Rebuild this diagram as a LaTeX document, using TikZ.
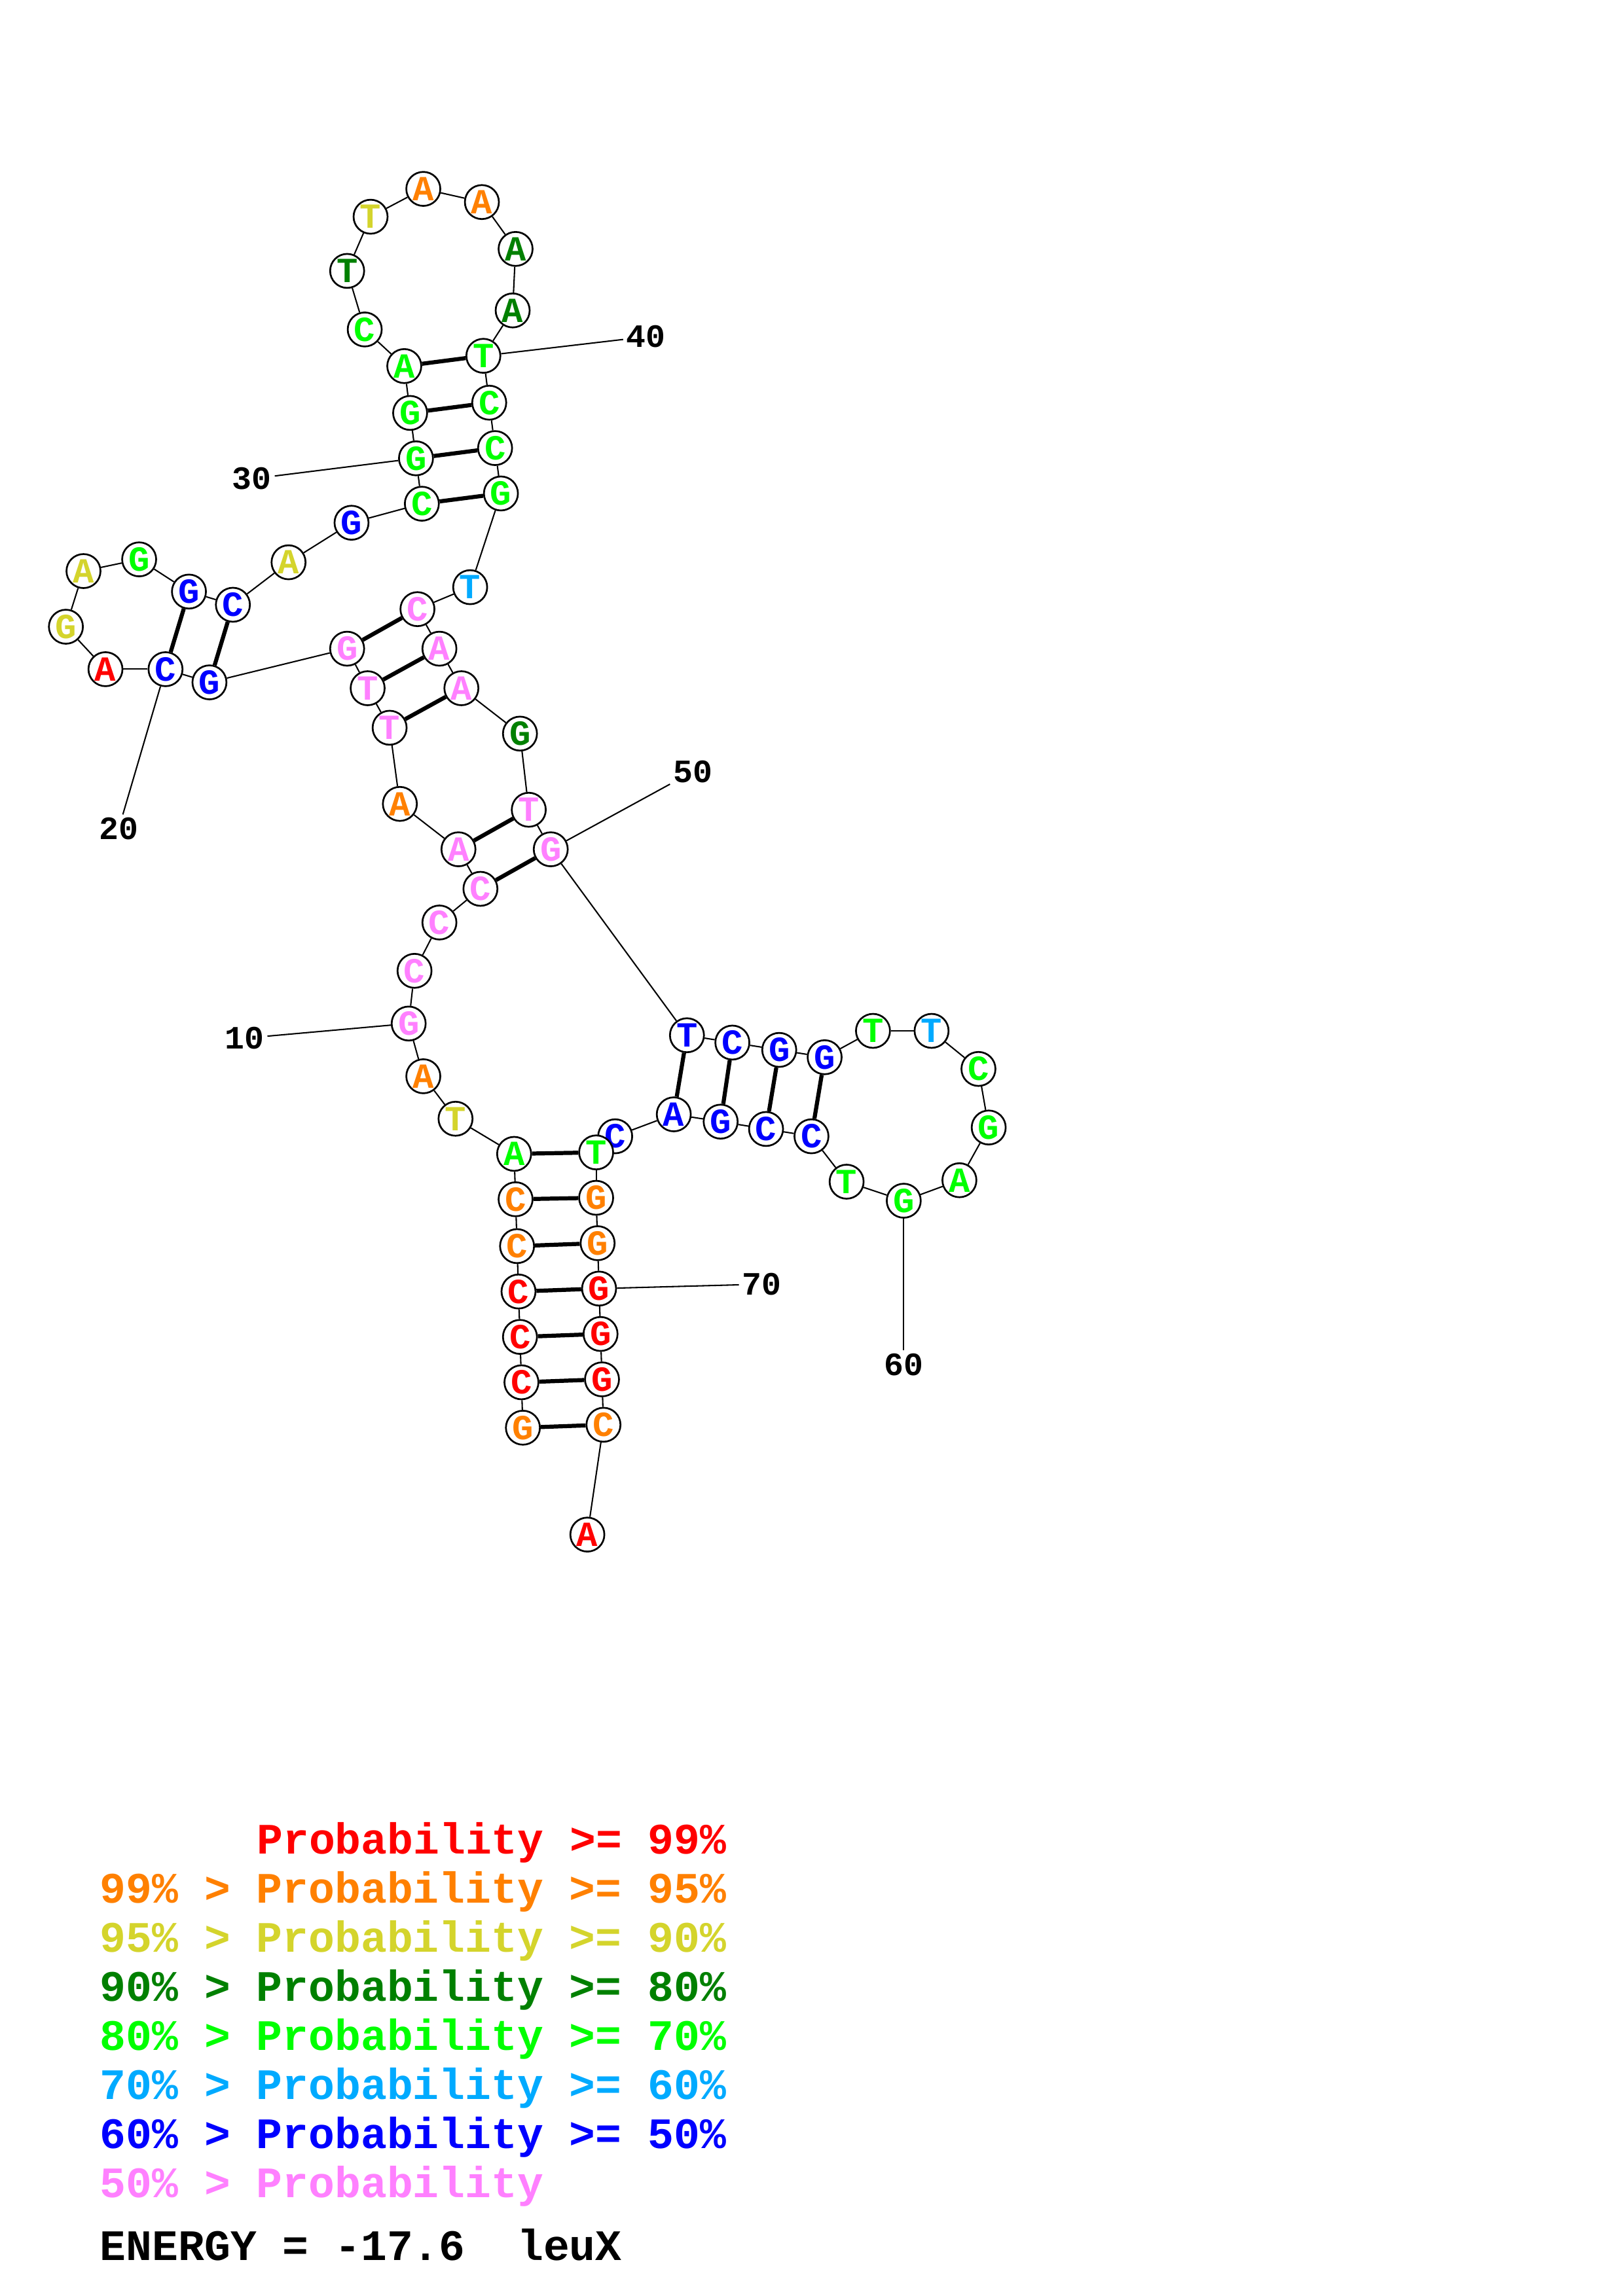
\documentclass[tikz,border=0pt]{standalone}
\usepackage{fontspec}
\setmonofont{Liberation Mono}
\definecolor{pr99}{HTML}{FF0000}
\definecolor{pr95}{HTML}{FF8000}
\definecolor{pr90}{HTML}{D4D42C}
\definecolor{pr80}{HTML}{008000}
\definecolor{pr70}{HTML}{00FF00}
\definecolor{pr60}{HTML}{00AAFF}
\definecolor{pr50}{HTML}{0000FF}
\definecolor{pr00}{HTML}{FF80FF}
\pgfdeclarelayer{bg}
\pgfsetlayers{bg,main}
\tikzset{
  nt/.style={circle,draw,fill=white,line width=0.65pt,minimum size=0.44cm,inner sep=0pt,
    font=\ttfamily\bfseries\fontsize{13}{13}\selectfont,text=#1},
  bb/.style={line width=0.5pt},
  bp/.style={line width=1.5pt},
  num/.style={inner sep=1pt,font=\ttfamily\bfseries\fontsize{12}{12}\selectfont},
  leg/.style={anchor=base west,inner sep=0pt,font=\ttfamily\bfseries\fontsize{16}{16}\selectfont}
}
\begin{document}
\begin{tikzpicture}[x=0.018953cm,y=-0.018953cm]
\begin{pgfonlayer}{bg}
  \fill[white] (0,0) rectangle (1108,1568);
\end{pgfonlayer}
\useasboundingbox (0,0) rectangle (1108,1568);
% acceptor stem, 5' side
\node[nt=pr95] (n1) at (357,975) {G};
\node[nt=pr99] (n2) at (356,944) {C};
\node[nt=pr99] (n3) at (355,913) {C};
\node[nt=pr99] (n4) at (354,882) {C};
\node[nt=pr95] (n5) at (353,851) {C};
\node[nt=pr95] (n6) at (352,819) {C};
\node[nt=pr70] (n7) at (351,788) {A};
\node[nt=pr90] (n8) at (311,764) {T};
\node[nt=pr95] (n9) at (289,735) {A};
\node[nt=pr00] (n10) at (279,699) {G};
\node[nt=pr00] (n11) at (283,663) {C};
\node[nt=pr00] (n12) at (300,630) {C};
\node[nt=pr00] (n13) at (328,607) {C};
\node[nt=pr00] (n14) at (313,580) {A};
\node[nt=pr95] (n15) at (273,549) {A};
\node[nt=pr00] (n16) at (266,497) {T};
\node[nt=pr00] (n17) at (251,470) {T};
\node[nt=pr00] (n18) at (237,443) {G};
% left hairpin
\node[nt=pr50] (n19) at (143,466) {G};
\node[nt=pr50] (n20) at (113,457) {C};
\node[nt=pr99] (n21) at (72,457) {A};
\node[nt=pr90] (n22) at (45,428) {G};
\node[nt=pr90] (n23) at (57,390) {A};
\node[nt=pr70] (n24) at (95,382) {G};
\node[nt=pr50] (n25) at (129,404) {G};
\node[nt=pr50] (n26) at (159,413) {C};
\node[nt=pr90] (n27) at (197,384) {A};
\node[nt=pr50] (n28) at (240,357) {G};
% top hairpin
\node[nt=pr70] (n29) at (288,344) {C};
\node[nt=pr70] (n30) at (284,313) {G};
\node[nt=pr70] (n31) at (280,282) {G};
\node[nt=pr70] (n32) at (276,250) {A};
\node[nt=pr70] (n33) at (249,225) {C};
\node[nt=pr80] (n34) at (237,185) {T};
\node[nt=pr90] (n35) at (253,148) {T};
\node[nt=pr95] (n36) at (289,129) {A};
\node[nt=pr95] (n37) at (329,138) {A};
\node[nt=pr80] (n38) at (352,170) {A};
\node[nt=pr80] (n39) at (350,212) {A};
\node[nt=pr70] (n40) at (330,243) {T};
\node[nt=pr70] (n41) at (334,275) {C};
\node[nt=pr70] (n42) at (338,306) {C};
\node[nt=pr70] (n43) at (342,337) {G};
\node[nt=pr60] (n44) at (321,401) {T};
% middle loop
\node[nt=pr00] (n45) at (285,416) {C};
\node[nt=pr00] (n46) at (300,443) {A};
\node[nt=pr00] (n47) at (315,470) {A};
\node[nt=pr80] (n48) at (355,501) {G};
\node[nt=pr00] (n49) at (361,553) {T};
\node[nt=pr00] (n50) at (376,580) {G};
% right hairpin
\node[nt=pr50] (n51) at (469,707) {T};
\node[nt=pr50] (n52) at (500,712) {C};
\node[nt=pr50] (n53) at (532,717) {G};
\node[nt=pr50] (n54) at (563,722) {G};
\node[nt=pr70] (n55) at (596,704) {T};
\node[nt=pr60] (n56) at (636,704) {T};
\node[nt=pr70] (n57) at (668,730) {C};
\node[nt=pr70] (n58) at (675,770) {G};
\node[nt=pr70] (n59) at (655,806) {A};
\node[nt=pr70] (n60) at (617,820) {G};
\node[nt=pr70] (n61) at (578,807) {T};
\node[nt=pr50] (n62) at (554,776) {C};
\node[nt=pr50] (n63) at (523,771) {C};
\node[nt=pr50] (n64) at (492,766) {G};
\node[nt=pr50] (n65) at (460,761) {A};
\node[nt=pr50] (n66) at (420,776) {C};
% acceptor stem, 3' side
\node[nt=pr70] (n67) at (407,787) {T};
\node[nt=pr95] (n68) at (407,818) {G};
\node[nt=pr95] (n69) at (408,849) {G};
\node[nt=pr99] (n70) at (409,880) {G};
\node[nt=pr99] (n71) at (410,911) {G};
\node[nt=pr99] (n72) at (411,942) {G};
\node[nt=pr95] (n73) at (412,973) {C};
\node[nt=pr99] (n74) at (401,1048) {A};
% numbers
\node[num] (l10) at (167,709) {10};
\node[num] (l20) at (81,566) {20};
\node[num] (l30) at (172,327) {30};
\node[num] (l40) at (441,230) {40};
\node[num] (l50) at (473,527) {50};
\node[num] (l60) at (617,932) {60};
\node[num] (l70) at (520,877) {70};
\begin{pgfonlayer}{bg}
  \foreach \i [evaluate=\i as \j using int(\i+1)] in {1,...,73}
    \draw[bb] (n\i) -- (n\j);
  \foreach \a/\b in {1/73,2/72,3/71,4/70,5/69,6/68,7/67,13/50,14/49,16/47,17/46,18/45,
      19/26,20/25,29/43,30/42,31/41,32/40,51/65,52/64,53/63,54/62}
    \draw[bp] (n\a) -- (n\b);
  \foreach \k in {10,20,...,70}
    \draw[bb] (n\k) -- (l\k);
\end{pgfonlayer}
% legend
\node[leg,text=pr99] (leg1) at (175,1266) {Probability >= 99\%};
\node[leg,text=pr95] (leg2) at (68,1299.5) {99\% > Probability >= 95\%};
\node[leg,text=pr90] (leg3) at (68,1333) {95\% > Probability >= 90\%};
\node[leg,text=pr80] (leg4) at (68,1366.5) {90\% > Probability >= 80\%};
\node[leg,text=pr70] (leg5) at (68,1400) {80\% > Probability >= 70\%};
\node[leg,text=pr60] (leg6) at (68,1433.5) {70\% > Probability >= 60\%};
\node[leg,text=pr50] (leg7) at (68,1467) {60\% > Probability >= 50\%};
\node[leg,text=pr00] (leg8) at (68,1500.5) {50\% > Probability};
\node[leg] (energy) at (68,1543.5) {ENERGY~=~-17.6~~leuX};
\end{tikzpicture}
\end{document}
